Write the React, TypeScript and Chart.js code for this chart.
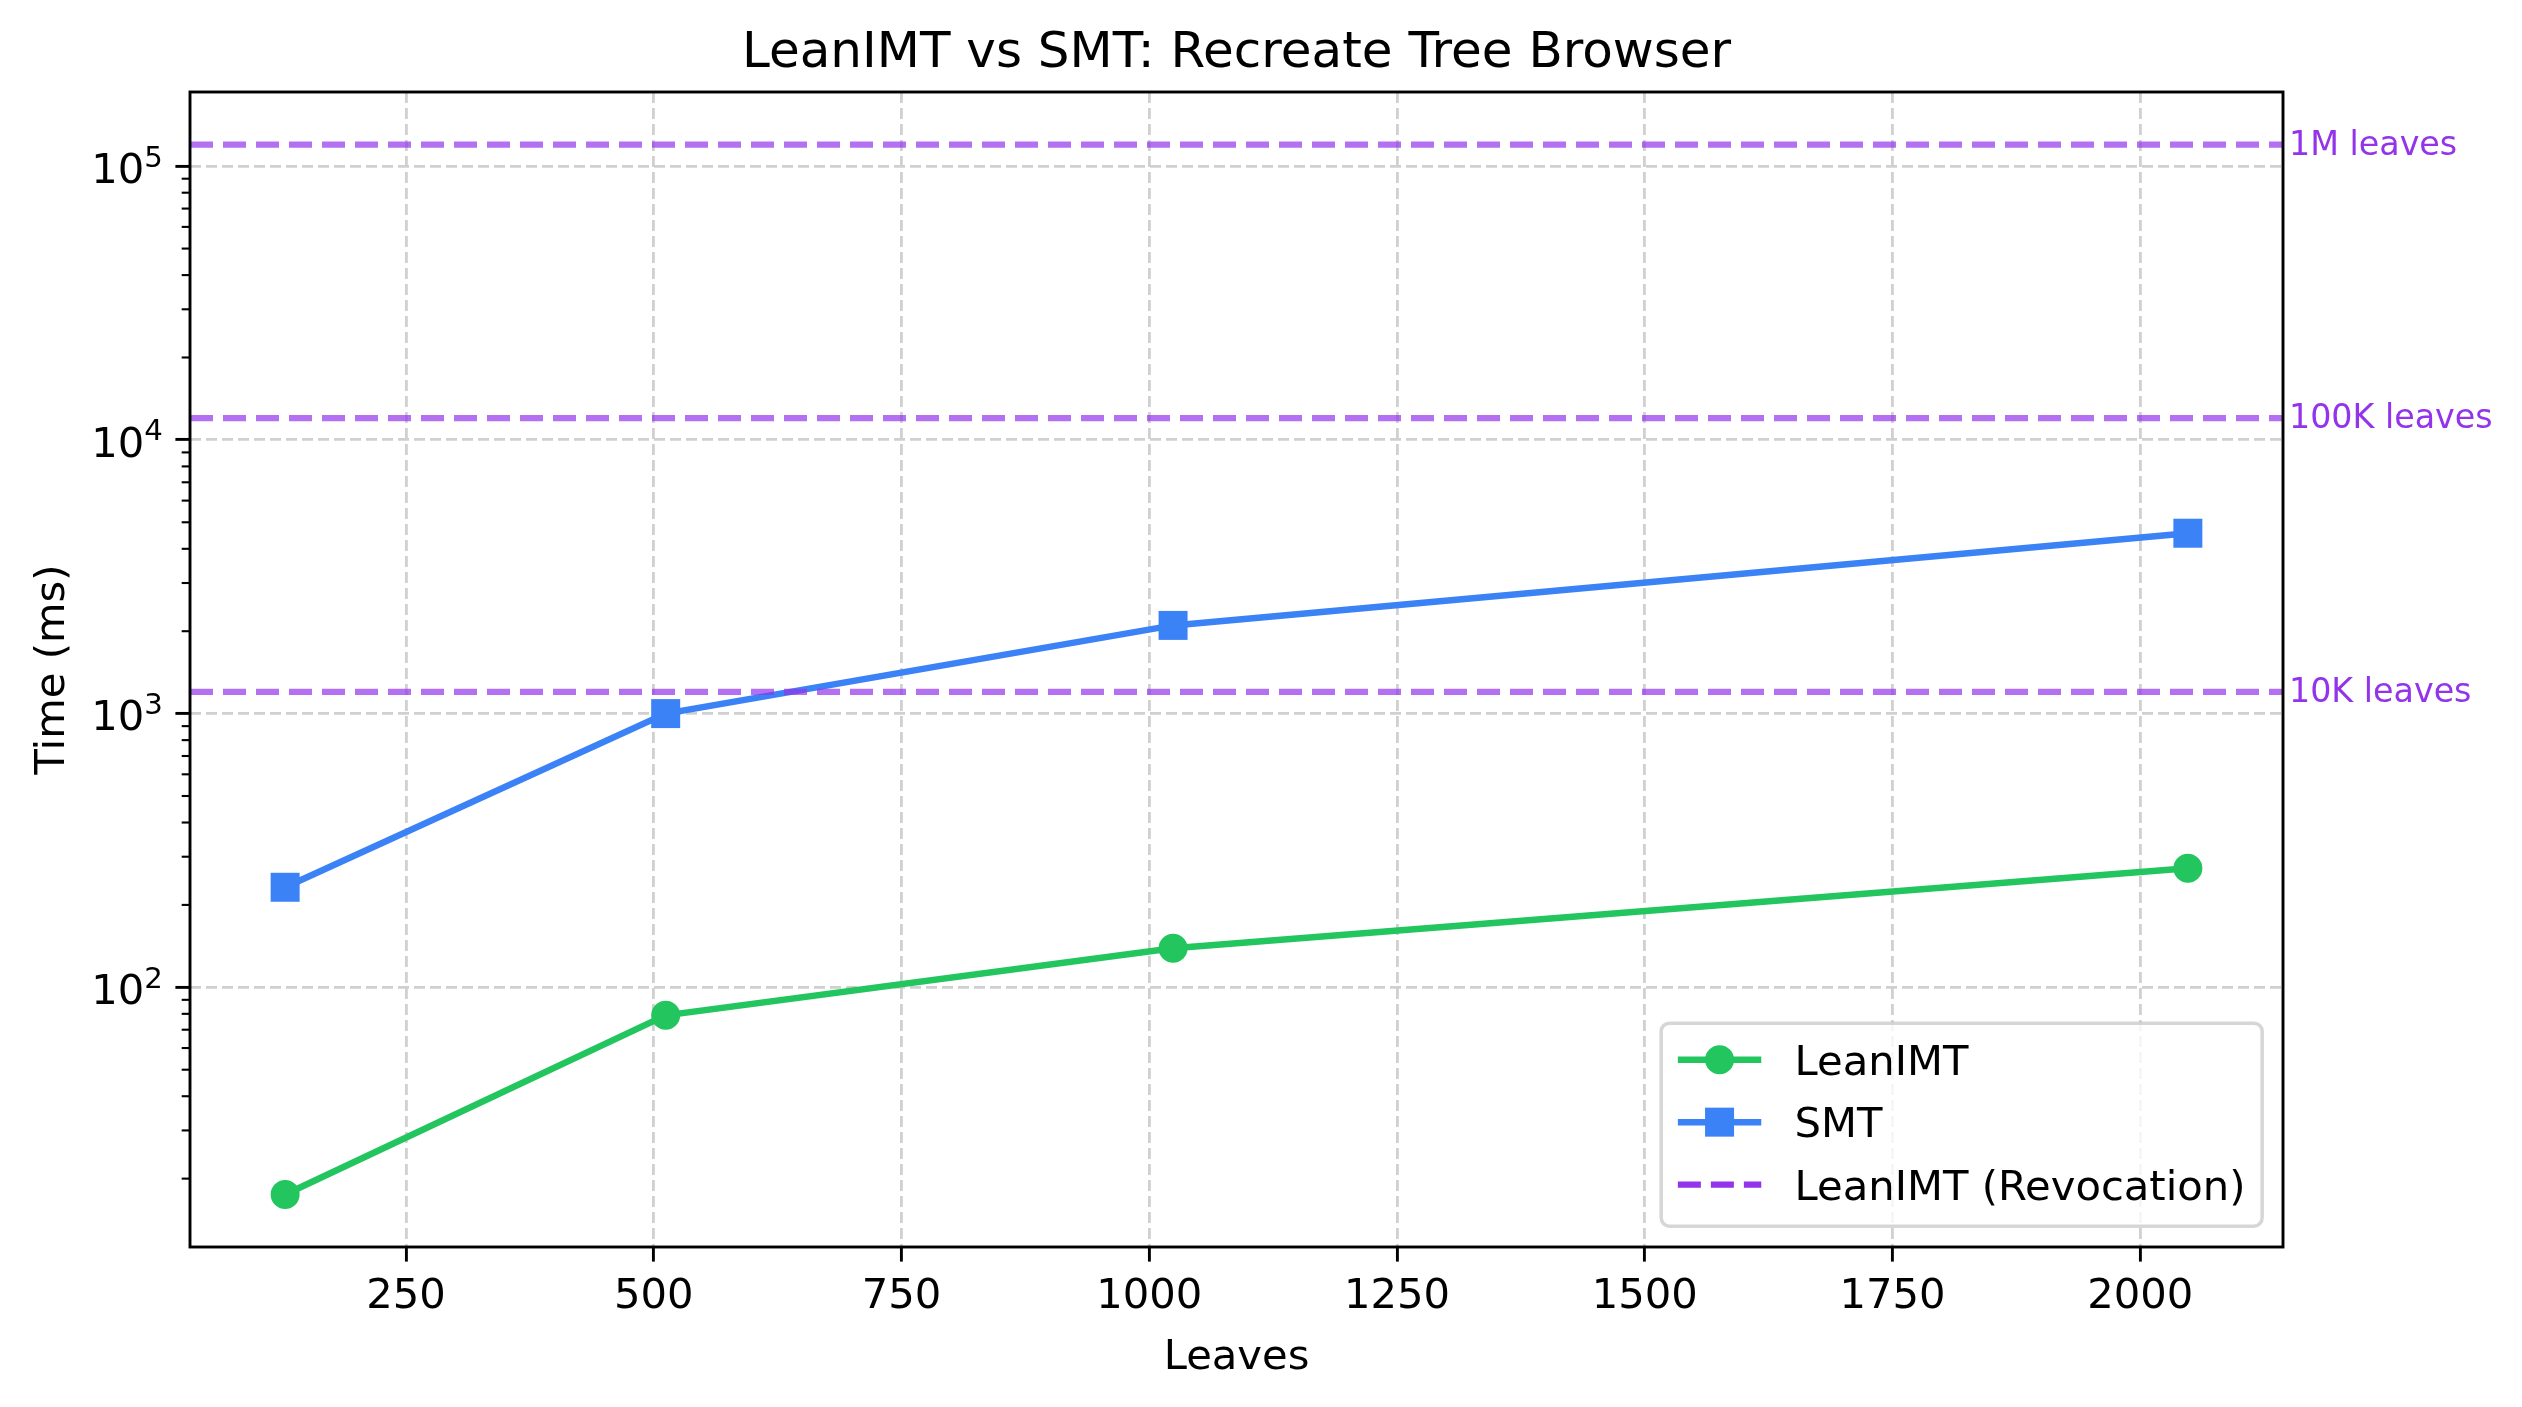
import React, { useEffect, useRef } from 'react';
import { Chart, registerables } from 'chart.js';

Chart.register(...registerables);

// ---------------- data ----------------
const leaves = [128, 512, 1024, 2048];
const leanImtMs = [17.5, 79, 139, 272];
const smtMs = [232, 1000, 2100, 4560];
const revocationLabels = ['10K leaves', '100K leaves', '1M leaves'];
const revocationMs = [1200, 12000, 120000];
const xTickValues = [250, 500, 750, 1000, 1250, 1500, 1750, 2000];
const yTickExponents = [2, 3, 4, 5];
const seriesNames = ['LeanIMT', 'SMT', 'LeanIMT (Revocation)'];
const titleText = 'LeanIMT vs SMT: Recreate Tree Browser';
const xLabelText = 'Leaves';
const yLabelText = 'Time (ms)';

// ---------------- style ----------------
const W = 2522;
const H = 1407;
const PLOT = { left: 190, right: 2283, top: 92, bottom: 1247 };
const FONT = '"DejaVu Sans", "Liberation Sans", sans-serif';
const GREEN = '#22c55e';
const BLUE = '#3b82f6';
const PURPLE = '#9333ea';
const PURPLE_A = 'rgba(147, 51, 234, 0.7)';
const GRID = '#d0d0d0';
const FS = 41.7; // 10pt
const TITLE_FS = 50;
const SMALL_FS = 33.3;
const TICK_LEN = 14.6;
const TICK_PAD = 14.6;
const LINE_W = 6.5;
const CIRCLE_R = 14.5;
const RECT_R = 20.5;

function niceRangeLinear(vals: number[]) {
  const lo = Math.min(...vals);
  const hi = Math.max(...vals);
  const m = (hi - lo) * 0.05;
  return [lo - m, hi + m];
}
function niceRangeLog(vals: number[]) {
  const lo = Math.log10(Math.min(...vals));
  const hi = Math.log10(Math.max(...vals));
  const m = (hi - lo) * 0.05;
  return [Math.pow(10, lo - m), Math.pow(10, hi + m)];
}

const [xMin, xMax] = niceRangeLinear(leaves);
const [yMin, yMax] = niceRangeLog([...leanImtMs, ...smtMs, ...revocationMs]);

const decorPlugin = {
  id: 'decor',
  afterDatasetsDraw(chart: any) {
    const { ctx, chartArea: a, scales } = chart;
    const y = scales.y;
    ctx.save();

    // revocation reference lines
    ctx.strokeStyle = PURPLE_A;
    ctx.lineWidth = 6.25;
    ctx.setLineDash([23, 10]);
    revocationMs.forEach((v) => {
      const py = y.getPixelForValue(v);
      ctx.beginPath();
      ctx.moveTo(a.left, py);
      ctx.lineTo(a.right, py);
      ctx.stroke();
    });
    ctx.setLineDash([]);

    // spines
    ctx.strokeStyle = '#000';
    ctx.lineWidth = 2.9;
    ctx.strokeRect(a.left, a.top, a.right - a.left, a.bottom - a.top);

    // minor ticks on log axis
    ctx.lineWidth = 2.1;
    const eLo = Math.floor(Math.log10(y.min));
    const eHi = Math.ceil(Math.log10(y.max));
    for (let e = eLo; e <= eHi; e++) {
      for (let m = 2; m <= 9; m++) {
        const v = m * Math.pow(10, e);
        if (v < y.min || v > y.max) continue;
        const py = y.getPixelForValue(v);
        ctx.beginPath();
        ctx.moveTo(a.left - 8.3, py);
        ctx.lineTo(a.left, py);
        ctx.stroke();
      }
    }

    // y tick labels (10^n)
    ctx.fillStyle = '#000';
    ctx.textBaseline = 'alphabetic';
    ctx.textAlign = 'left';
    y.ticks.forEach((t: any) => {
      const py = y.getPixelForValue(t.value);
      const exp = String(Math.round(Math.log10(t.value)));
      ctx.font = `${FS}px ${FONT}`;
      const wBase = ctx.measureText('10').width;
      ctx.font = `${FS * 0.7}px ${FONT}`;
      const wExp = ctx.measureText(exp).width;
      const right = a.left - TICK_LEN - TICK_PAD + 2;
      const x0 = right - wBase - wExp;
      ctx.font = `${FS}px ${FONT}`;
      ctx.fillText('10', x0, py + 16.8);
      ctx.font = `${FS * 0.7}px ${FONT}`;
      ctx.fillText(exp, x0 + wBase, py + 0.5);
    });

    // revocation labels
    ctx.fillStyle = PURPLE;
    ctx.font = `${SMALL_FS}px ${FONT}`;
    ctx.textBaseline = 'middle';
    revocationMs.forEach((v, i) => {
      const py = y.getPixelForValue(v);
      ctx.fillText(revocationLabels[i], a.right + 6, py + 1.5);
    });

    // title
    ctx.fillStyle = '#000';
    ctx.textAlign = 'center';
    ctx.textBaseline = 'alphabetic';
    ctx.font = `${TITLE_FS}px ${FONT}`;
    ctx.fillText(titleText, (a.left + a.right) / 2, a.top - 25);

    // x axis label
    ctx.font = `${FS}px ${FONT}`;
    ctx.fillText(xLabelText, (a.left + a.right) / 2, 1369);

    // y axis label
    ctx.save();
    ctx.translate(64, (a.top + a.bottom) / 2);
    ctx.rotate(-Math.PI / 2);
    ctx.fillText(yLabelText, 0, 0);
    ctx.restore();

    // legend
    ctx.font = `${FS}px ${FONT}`;
    const textW = Math.max(...seriesNames.map((s) => ctx.measureText(s).width));
    const bp = 0.4 * FS;
    const hl = 2 * FS;
    const htp = 0.8 * FS;
    const boxW = bp + hl + htp + textW + bp;
    const boxH = 203;
    const boxR = a.right - 0.5 * FS;
    const boxB = a.bottom - 0.5 * FS;
    const boxL = boxR - boxW;
    const boxT = boxB - boxH;
    ctx.beginPath();
    ctx.roundRect(boxL, boxT, boxW, boxH, 0.2 * FS);
    ctx.fillStyle = 'rgba(255,255,255,0.8)';
    ctx.fill();
    ctx.strokeStyle = 'rgba(204,204,204,0.8)';
    ctx.lineWidth = 3.5;
    ctx.stroke();

    const rowPitch = 62.5;
    const hx0 = boxL + bp;
    const hx1 = hx0 + hl;
    const hxm = (hx0 + hx1) / 2;
    const colors = [GREEN, BLUE, PURPLE];
    seriesNames.forEach((name, i) => {
      const cy = boxT + 36.5 + i * rowPitch;
      ctx.strokeStyle = colors[i];
      ctx.fillStyle = colors[i];
      ctx.lineWidth = i === 2 ? 6.25 : LINE_W;
      ctx.setLineDash(i === 2 ? [23, 10] : []);
      ctx.beginPath();
      ctx.moveTo(hx0, cy);
      ctx.lineTo(hx1, cy);
      ctx.stroke();
      ctx.setLineDash([]);
      if (i === 0) {
        ctx.beginPath();
        ctx.arc(hxm, cy, CIRCLE_R, 0, Math.PI * 2);
        ctx.fill();
      } else if (i === 1) {
        const s = RECT_R * Math.SQRT1_2;
        ctx.fillRect(hxm - s, cy - s, 2 * s, 2 * s);
      }
      ctx.fillStyle = '#000';
      ctx.textAlign = 'left';
      ctx.textBaseline = 'alphabetic';
      ctx.fillText(name, hx1 + htp, cy + 15.2);
    });

    ctx.restore();
  },
};

export default function App() {
  const canvasRef = useRef<HTMLCanvasElement | null>(null);

  useEffect(() => {
    const canvas = canvasRef.current;
    if (!canvas) return;
    const gridOpts = {
      color: GRID,
      lineWidth: 2.8,
      drawTicks: true,
      tickLength: TICK_LEN,
      tickWidth: 2.9,
      tickColor: '#000',
    };
    const chart = new Chart(canvas, {
      type: 'line',
      data: {
        datasets: [
          {
            label: seriesNames[0],
            data: leaves.map((x, i) => ({ x, y: leanImtMs[i] })),
            borderColor: GREEN,
            backgroundColor: GREEN,
            borderWidth: LINE_W,
            pointStyle: 'circle',
            pointRadius: CIRCLE_R,
            pointBorderWidth: 0,
            pointBackgroundColor: GREEN,
            tension: 0,
            fill: false,
          },
          {
            label: seriesNames[1],
            data: leaves.map((x, i) => ({ x, y: smtMs[i] })),
            borderColor: BLUE,
            backgroundColor: BLUE,
            borderWidth: LINE_W,
            pointStyle: 'rect',
            pointRadius: RECT_R,
            pointBorderWidth: 0,
            pointBackgroundColor: BLUE,
            tension: 0,
            fill: false,
          },
        ],
      },
      options: {
        responsive: false,
        animation: false,
        devicePixelRatio: 1,
        events: [],
        layout: {
          padding: { left: 0, right: W - PLOT.right, top: PLOT.top, bottom: 0 },
        },
        plugins: {
          legend: { display: false },
          title: { display: false },
          tooltip: { enabled: false },
        },
        scales: {
          x: {
            type: 'linear',
            position: 'bottom',
            min: xMin,
            max: xMax,
            bounds: 'data',
            afterBuildTicks: (s: any) => {
              s.ticks = xTickValues.map((v) => ({ value: v }));
            },
            afterFit: (s: any) => {
              s.height = H - PLOT.bottom;
            },
            ticks: {
              autoSkip: false,
              maxRotation: 0,
              minRotation: 0,
              padding: 10.5,
              color: '#000',
              font: { family: FONT, size: FS },
              callback: (v: any) => String(v),
            },
            grid: gridOpts,
            border: { display: false, dash: [11, 5] },
          },
          y: {
            type: 'logarithmic',
            position: 'left',
            min: yMin,
            max: yMax,
            bounds: 'data',
            afterBuildTicks: (s: any) => {
              s.ticks = yTickExponents.map((e) => ({ value: Math.pow(10, e), major: true }));
            },
            afterFit: (s: any) => {
              s.width = PLOT.left;
            },
            ticks: { display: false },
            grid: gridOpts,
            border: { display: false, dash: [11, 5] },
          },
        },
      },
      plugins: [decorPlugin],
    } as any);
    return () => chart.destroy();
  }, []);

  return (
    <div style={{ position: 'absolute', left: 0, top: 0, width: W, height: H, background: '#fff' }}>
      <canvas
        ref={canvasRef}
        width={W}
        height={H}
        style={{ display: 'block', width: W, height: H }}
      />
    </div>
  );
}
